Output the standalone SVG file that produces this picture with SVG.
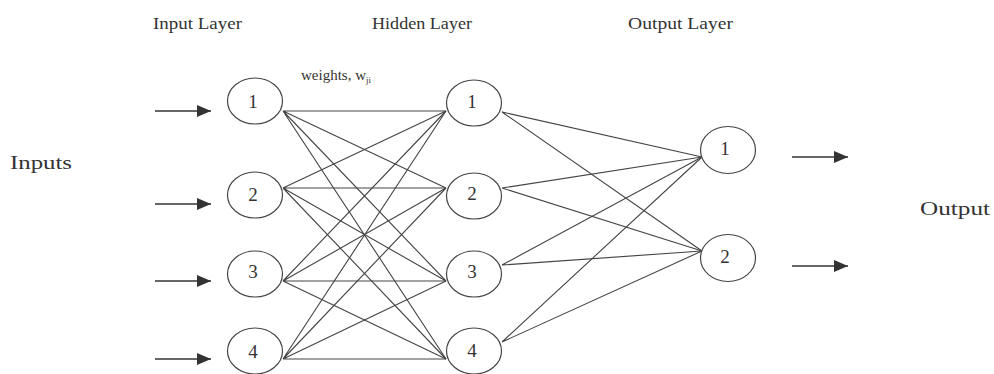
<svg xmlns="http://www.w3.org/2000/svg" width="994" height="374" viewBox="0 0 994 374">
<style>
text{font-family:"Liberation Serif","Times New Roman",serif;fill:#333}
.lbl{font-size:17px}
.side{font-size:19px}
.num{font-size:19px;text-anchor:middle}
.node{fill:#fff;stroke:#444;stroke-width:1.2}
.w{stroke:#444;stroke-width:1.1;fill:none}
.arr{stroke:#333;stroke-width:1.6;fill:none}
</style>
<defs>
<marker id="ah" markerUnits="userSpaceOnUse" markerWidth="15" markerHeight="12" refX="14" refY="6" orient="auto">
<path d="M0,0 L14,6 L0,12 z" fill="#333"/>
</marker>
</defs>
<text class="lbl" x="153" y="29" textLength="89" lengthAdjust="spacingAndGlyphs">Input Layer</text>
<text class="lbl" x="372" y="29" textLength="100" lengthAdjust="spacingAndGlyphs">Hidden Layer</text>
<text class="lbl" x="628" y="29" textLength="105" lengthAdjust="spacingAndGlyphs">Output Layer</text>
<text class="side" x="10" y="169" textLength="62" lengthAdjust="spacingAndGlyphs">Inputs</text>
<text class="side" x="920" y="215" textLength="70" lengthAdjust="spacingAndGlyphs">Output</text>
<text x="301" y="80" font-size="15">weights, w<tspan font-size="9" dy="3">ji</tspan></text>
<g id="connectors">
<g class="w">
<path d="M283,111 L446,111 M283,111 L446,188 M283,111 L446,281 M283,111 L446,359"/>
<path d="M283,188 L446,111 M283,188 L446,188 M283,188 L446,281 M283,188 L446,359"/>
<path d="M283,281 L446,111 M283,281 L446,188 M283,281 L446,281 M283,281 L446,359"/>
<path d="M283,359 L446,111 M283,359 L446,188 M283,359 L446,281 M283,359 L446,359"/>
<path d="M502,112 L702,157 M502,112 L702,251"/>
<path d="M502,188 L702,157 M502,188 L702,251"/>
<path d="M502,265 L702,157 M502,265 L702,251"/>
<path d="M502,342 L702,157 M502,342 L702,251"/>
</g>
<g class="arr">
<line x1="155" y1="111" x2="211" y2="111" marker-end="url(#ah)"/>
<line x1="155" y1="204" x2="211" y2="204" marker-end="url(#ah)"/>
<line x1="155" y1="281" x2="211" y2="281" marker-end="url(#ah)"/>
<line x1="155" y1="359" x2="211" y2="359" marker-end="url(#ah)"/>
<line x1="792" y1="157" x2="848" y2="157" marker-end="url(#ah)"/>
<line x1="792" y1="266" x2="848" y2="266" marker-end="url(#ah)"/>
</g>
</g>
<g id="in1"><ellipse class="node" cx="255" cy="101" rx="27.5" ry="23"/><text class="num" x="253" y="108">1</text></g>
<g id="in2"><ellipse class="node" cx="255" cy="195" rx="27.5" ry="23"/><text class="num" x="253" y="201">2</text></g>
<g id="in3"><ellipse class="node" cx="255" cy="274" rx="27.5" ry="23"/><text class="num" x="253" y="278">3</text></g>
<g id="in4"><ellipse class="node" cx="255" cy="351" rx="27.5" ry="23"/><text class="num" x="253" y="358">4</text></g>
<g id="hid1"><ellipse class="node" cx="474" cy="103" rx="27.5" ry="23"/><text class="num" x="472" y="108">1</text></g>
<g id="hid2"><ellipse class="node" cx="474" cy="196" rx="27.5" ry="23"/><text class="num" x="472" y="200">2</text></g>
<g id="hid3"><ellipse class="node" cx="474" cy="274" rx="27.5" ry="23"/><text class="num" x="472" y="278">3</text></g>
<g id="hid4"><ellipse class="node" cx="474" cy="351" rx="27.5" ry="23"/><text class="num" x="472" y="357">4</text></g>
<g id="out1"><ellipse class="node" cx="728" cy="150" rx="27.5" ry="23.5"/><text class="num" x="725" y="155">1</text></g>
<g id="out2"><ellipse class="node" cx="728" cy="258" rx="27.5" ry="23.5"/><text class="num" x="725" y="263">2</text></g>
</svg>
